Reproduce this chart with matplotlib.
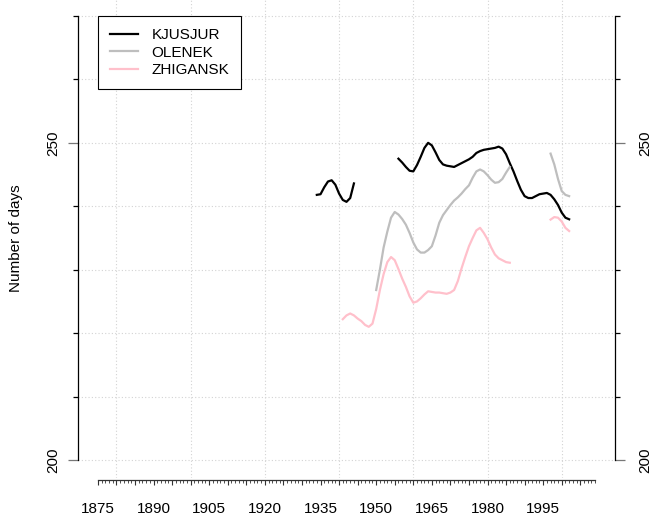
"""Growing season length at three Siberian stations (smoothed), R-style base plot."""
import numpy as np
import matplotlib.pyplot as plt
from matplotlib.ticker import FixedLocator, NullFormatter

plt.rcParams['font.family'] = ['Liberation Sans', 'DejaVu Sans']

# KJUSJUR, two pieces
kjusjur_years_a = [1934, 1935, 1936, 1937, 1938, 1939, 1940, 1941, 1942, 1943, 1944]
kjusjur_vals_a = [241.8, 241.9, 243.0, 243.9, 244.1, 243.4, 242.0, 241.0, 240.7, 241.3, 243.6]
kjusjur_years_b = list(range(1956, 2003))
kjusjur_vals_b = [247.5, 246.9, 246.2, 245.6, 245.5, 246.5, 247.8, 249.2, 250.0, 249.6,
                  248.5, 247.3, 246.6, 246.4, 246.3, 246.2, 246.5, 246.8, 247.1, 247.4,
                  247.8, 248.4, 248.7, 248.9, 249.0, 249.1, 249.2, 249.4, 249.1, 248.2,
                  246.8, 245.5, 244.0, 242.6, 241.6, 241.3, 241.3, 241.6, 241.9, 242.0,
                  242.1, 241.8, 241.1, 240.2, 239.0, 238.2, 237.95]

# OLENEK
olenek_years_a = list(range(1950, 1987))
olenek_vals_a = [226.8, 230.0, 233.5, 236.0, 238.2, 239.1, 238.7, 238.0, 237.1, 235.8,
                 234.3, 233.2, 232.7, 232.7, 233.1, 233.7, 235.4, 237.4, 238.6, 239.4,
                 240.2, 240.9, 241.4, 242.0, 242.7, 243.3, 244.5, 245.5, 245.8, 245.5,
                 244.9, 244.2, 243.7, 243.8, 244.3, 245.3, 246.2]
olenek_years_b = [1997, 1998, 1999, 2000, 2001, 2002]
olenek_vals_b = [248.3, 246.6, 244.3, 242.4, 241.8, 241.6]

# ZHIGANSK
zhigansk_years_a = list(range(1941, 1987))
zhigansk_vals_a = [222.2, 222.8, 223.1, 222.8, 222.3, 221.9, 221.3, 221.0, 221.5, 223.8,
                   226.8, 229.3, 231.2, 232.0, 231.5, 230.1, 228.6, 227.3, 225.8, 224.8,
                   225.0, 225.5, 226.1, 226.6, 226.5, 226.4, 226.4, 226.3, 226.2, 226.4,
                   226.8, 228.2, 230.2, 232.0, 233.7, 235.0, 236.2, 236.6, 235.8, 234.8,
                   233.5, 232.4, 231.8, 231.5, 231.2, 231.1]
zhigansk_years_b = [1997, 1998, 1999, 2000, 2001, 2002]
zhigansk_vals_b = [237.9, 238.3, 238.2, 237.6, 236.6, 236.1]

stations = ["KJUSJUR", "OLENEK", "ZHIGANSK"]
colors = ["black", "#BEBEBE", "#FFC0CB"]
segments = [
    [(kjusjur_years_a, kjusjur_vals_a), (kjusjur_years_b, kjusjur_vals_b)],
    [(olenek_years_a, olenek_vals_a), (olenek_years_b, olenek_vals_b)],
    [(zhigansk_years_a, zhigansk_vals_a), (zhigansk_years_b, zhigansk_vals_b)],
]

FS = 11

fig = plt.figure(figsize=(6.52, 5.24), dpi=100)
ax = fig.add_axes([0.11963, 0.08817, 0.82362, 0.91527])
ax.set_xlim(1869.64, 2014.36)
ax.set_ylim(197.2, 272.8)

# dotted grid
for yv in range(200, 271, 10):
    ax.axhline(yv, color="#D3D3D3", linestyle=(0, (1, 2)), linewidth=0.8, zorder=0)
for xv in range(1880, 2001, 20):
    ax.axvline(xv, color="#D3D3D3", linestyle=(0, (1, 2)), linewidth=0.8, zorder=0)

for name, col, segs in zip(stations, colors, segments):
    for i, (yrs, vals) in enumerate(segs):
        ax.plot(yrs, vals, color=col, linewidth=1.6, label=name if i == 0 else None, zorder=2)

# right-hand axis as a twin so it can have its own label pad
ax2 = ax.twinx()
ax2.set_ylim(ax.get_ylim())
for s in ["top", "bottom", "left"]:
    ax2.spines[s].set_visible(False)
ax2.spines["right"].set_bounds(200, 270)
ax2.spines["right"].set_linewidth(0.9)

ax.spines["top"].set_visible(False)
ax.spines["right"].set_visible(False)
ax.spines["left"].set_bounds(200, 270)
ax.spines["left"].set_linewidth(0.9)
ax.spines["bottom"].set_bounds(1875, 2009)
ax.spines["bottom"].set_position(("outward", 1.6))
ax.spines["bottom"].set_color("#333333")
ax.spines["bottom"].set_linewidth(0.9)

for a, pad in [(ax, 5.5), (ax2, 9.4)]:
    a.yaxis.set_major_locator(FixedLocator([200, 250]))
    a.yaxis.set_minor_locator(FixedLocator([210, 220, 230, 240, 260, 270]))
    a.tick_params(axis="y", which="major", length=7.2, width=0.9, color="#777777",
                  labelsize=FS, labelrotation=90, pad=pad)
    a.tick_params(axis="y", which="minor", length=3.6, width=0.9, color="black")
    for t in a.yaxis.get_major_ticks():
        t.label1.set_verticalalignment("center")
        t.label2.set_verticalalignment("center")

# x axis: labels every 15 yr, ticks every 5 yr and every year
xmaj = list(range(1875, 2010, 5))
ax.xaxis.set_major_locator(FixedLocator(xmaj))
ax.set_xticklabels([str(y) if (y - 1875) % 15 == 0 else "" for y in xmaj])
ax.xaxis.set_minor_locator(FixedLocator(list(range(1875, 2010))))
ax.xaxis.set_minor_formatter(NullFormatter())
ax.tick_params(axis="x", which="major", length=3.6, width=0.8, color="#333333",
               labelsize=FS, pad=12.5)
ax.tick_params(axis="x", which="minor", length=1.8, width=0.6, color="#333333")

ax.set_ylabel("Number of days", fontsize=FS)
ax.yaxis.set_label_coords(-0.1024, (235 - 197.2) / (272.8 - 197.2))

leg = ax.legend(loc="upper left", bbox_to_anchor=(1875, 270), bbox_transform=ax.transData,
                borderaxespad=0, fancybox=False, framealpha=1, edgecolor="black",
                fontsize=FS, handlelength=1.85, handletextpad=0.85,
                labelspacing=0.22, borderpad=0.8)
leg.get_frame().set_linewidth(0.8)

fig.savefig("out.png", dpi=100)
